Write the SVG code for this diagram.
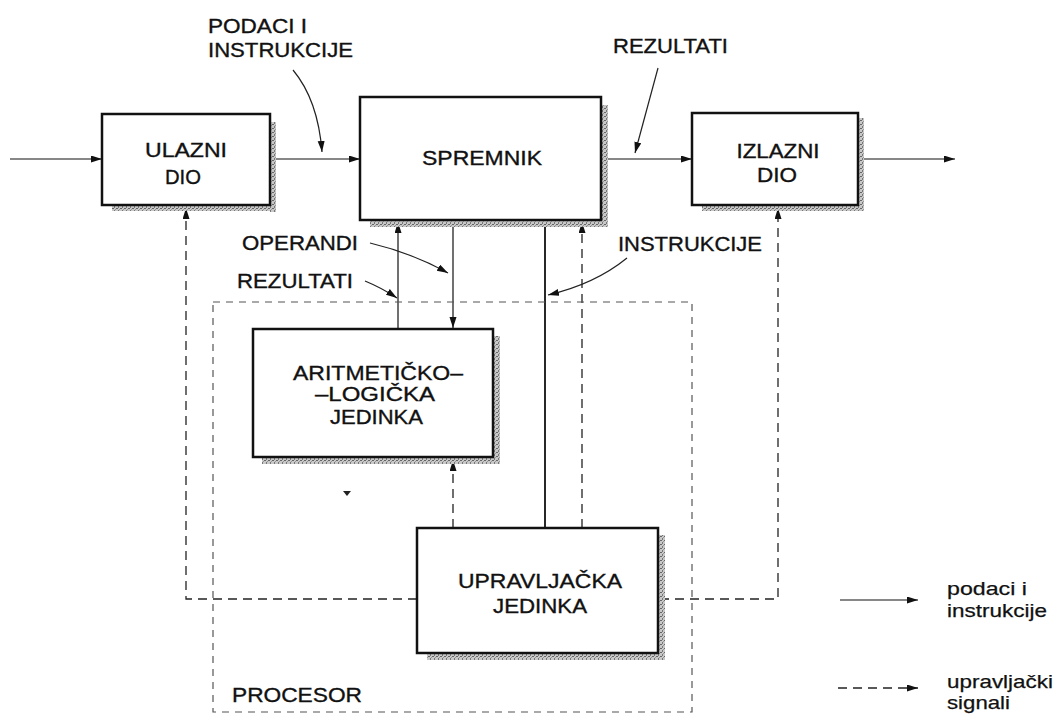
<svg xmlns="http://www.w3.org/2000/svg" width="1054" height="715" viewBox="0 0 1054 715">
<defs>
<marker id="arr" markerUnits="userSpaceOnUse" markerWidth="12" markerHeight="8" refX="11" refY="3.5" orient="auto">
<path d="M0,0 L11,3.5 L0,7 z" fill="#111"/>
</marker>
<pattern id="shade" width="4" height="4" patternUnits="userSpaceOnUse">
<rect width="4" height="4" fill="#c8c8c8"/>
<rect x="0" y="0" width="2" height="1" fill="#666"/>
<rect x="2" y="2" width="1" height="2" fill="#777"/>
<rect x="3" y="1" width="1" height="1" fill="#999"/>
</pattern>
</defs>
<style>
.box{fill:#fff;stroke:#111;stroke-width:2.5}
.sh{fill:url(#shade)}
.t{font-family:"Liberation Sans",Arial,sans-serif;font-size:20px;fill:#111;stroke:#111;stroke-width:0.35}
.tl{font-family:"Liberation Sans",Arial,sans-serif;font-size:19px;fill:#111;stroke:#111;stroke-width:0.25}
.c{text-anchor:middle}
.s{fill:none;stroke:#111;stroke-width:1.2}
.d{fill:none;stroke:#222;stroke-width:1.3;stroke-dasharray:9 6}
.p{fill:none;stroke:#555;stroke-width:1.2;stroke-dasharray:7 6}
.lead{fill:none;stroke:#222;stroke-width:1.2}
</style>
<rect width="1054" height="715" fill="#fff"/>

<g id="connectors">
<line class="s" x1="10" y1="159" x2="102" y2="159" marker-end="url(#arr)"/>
<line class="s" x1="271" y1="159" x2="360" y2="159" marker-end="url(#arr)"/>
<line class="s" x1="604" y1="159" x2="692" y2="159" marker-end="url(#arr)"/>
<line class="s" x1="861" y1="159" x2="955" y2="159" marker-end="url(#arr)"/>
<path class="d" d="M417,599 H186 V208" marker-end="url(#arr)"/>
<path class="d" d="M660,599 H778 V208" marker-end="url(#arr)"/>
<path class="d" d="M582,528 V222" marker-end="url(#arr)"/>
<path class="d" d="M453,528 V460" marker-end="url(#arr)"/>
<path class="s" d="M398,329 V222" stroke="#555" marker-end="url(#arr)"/>
<path class="s" d="M453,222 V328" marker-end="url(#arr)"/>
<path d="M545,221 V528" fill="none" stroke="#111" stroke-width="1.8"/>
<path class="lead" d="M293,70 Q318,100 322,152" marker-end="url(#arr)"/>
<path class="lead" d="M658,68 Q646,112 635,153" marker-end="url(#arr)"/>
<path class="lead" d="M370,243 Q412,253 448,273" marker-end="url(#arr)"/>
<path class="lead" d="M365,281 Q382,288 397,298" marker-end="url(#arr)"/>
<path class="lead" d="M627,258 Q595,284 548,295" marker-end="url(#arr)"/>
<line class="s" x1="840" y1="600" x2="918" y2="600" marker-end="url(#arr)"/>
<line class="d" x1="838" y1="688" x2="918" y2="688" stroke-dasharray="7 5" marker-end="url(#arr)"/>
</g>

<g id="procesor">
<rect class="p" x="213" y="302" width="479" height="410"/>
<text class="t" x="232" y="702" textLength="130" lengthAdjust="spacingAndGlyphs">PROCESOR</text>
</g>

<g id="ulazni">
<rect class="sh" x="270" y="122" width="6" height="90"/>
<rect class="sh" x="112" y="205" width="164" height="6"/>
<rect class="box" x="102" y="114" width="168" height="91"/>
<text class="t c" x="186" y="157" textLength="82" lengthAdjust="spacingAndGlyphs">ULAZNI</text>
<text class="t c" x="183" y="184" textLength="36" lengthAdjust="spacingAndGlyphs">DIO</text>
</g>

<g id="spremnik">
<rect class="sh" x="601" y="105" width="7" height="122"/>
<rect class="sh" x="370" y="220" width="238" height="7"/>
<rect class="box" x="360" y="97" width="241" height="123"/>
<text class="t c" x="482" y="165" textLength="120" lengthAdjust="spacingAndGlyphs">SPREMNIK</text>
</g>

<g id="izlazni">
<rect class="sh" x="858" y="118" width="6" height="93"/>
<rect class="sh" x="702" y="205" width="162" height="6"/>
<rect class="box" x="692" y="113" width="166" height="92"/>
<text class="t c" x="778" y="158" textLength="83" lengthAdjust="spacingAndGlyphs">IZLAZNI</text>
<text class="t c" x="777" y="182" textLength="40" lengthAdjust="spacingAndGlyphs">DIO</text>
</g>

<g id="alu">
<rect class="sh" x="493" y="336" width="7" height="128"/>
<rect class="sh" x="262" y="457" width="238" height="7"/>
<rect class="box" x="253" y="329" width="240" height="128"/>
<text class="t" x="293" y="380" textLength="170" lengthAdjust="spacingAndGlyphs">ARITMETIČKO–</text>
<text class="t" x="315" y="401" textLength="120" lengthAdjust="spacingAndGlyphs">–LOGIČKA</text>
<text class="t" x="330" y="424" textLength="93" lengthAdjust="spacingAndGlyphs">JEDINKA</text>
</g>

<g id="upravljacka">
<rect class="sh" x="658" y="535" width="7" height="125"/>
<rect class="sh" x="427" y="653" width="238" height="7"/>
<rect class="box" x="417" y="528" width="241" height="125"/>
<text class="t" x="458" y="588" textLength="164" lengthAdjust="spacingAndGlyphs">UPRAVLJAČKA</text>
<text class="t" x="493" y="613" textLength="94" lengthAdjust="spacingAndGlyphs">JEDINKA</text>
</g>

<g id="labels">
<text class="t" x="208" y="33" textLength="99" lengthAdjust="spacingAndGlyphs">PODACI I</text>
<text class="t" x="208" y="57" textLength="145" lengthAdjust="spacingAndGlyphs">INSTRUKCIJE</text>
<text class="t" x="613" y="53" textLength="115" lengthAdjust="spacingAndGlyphs">REZULTATI</text>
<text class="t" x="242" y="250" textLength="116" lengthAdjust="spacingAndGlyphs">OPERANDI</text>
<text class="t" x="237" y="288" textLength="116" lengthAdjust="spacingAndGlyphs">REZULTATI</text>
<text class="t" x="618" y="251" textLength="144" lengthAdjust="spacingAndGlyphs">INSTRUKCIJE</text>
</g>

<g id="legend">
<text class="tl" x="947" y="595" textLength="80" lengthAdjust="spacingAndGlyphs">podaci i</text>
<text class="tl" x="947" y="617" textLength="100" lengthAdjust="spacingAndGlyphs">instrukcije</text>
<text class="tl" x="947" y="688" textLength="106" lengthAdjust="spacingAndGlyphs">upravljački</text>
<text class="tl" x="947" y="709" textLength="63" lengthAdjust="spacingAndGlyphs">signali</text>
</g>

<polygon points="343,491 351,491 347,496" fill="#222"/>
</svg>
